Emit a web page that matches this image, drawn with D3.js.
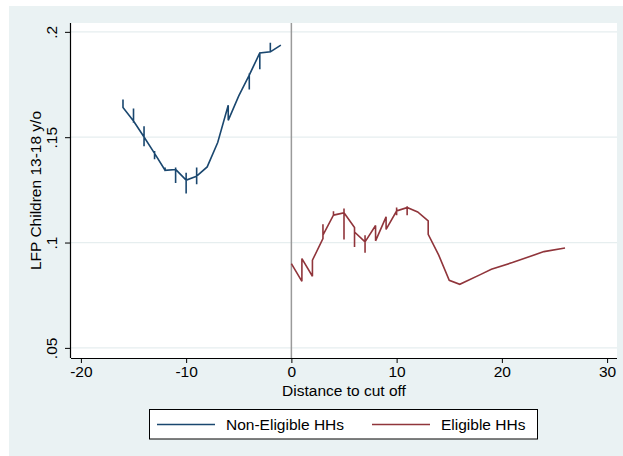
<!DOCTYPE html>
<html>
<head>
<meta charset="utf-8">
<script src="https://cdn.jsdelivr.net/npm/d3@7"></script>
<style>
  html, body { margin: 0; padding: 0; background: #ffffff; }
  svg { display: block; }
  text { font-family: "Liberation Sans", Arial, Helvetica, sans-serif; fill: #000; }
</style>
</head>
<body>
<svg id="chart" width="623" height="456"></svg>
<script>
// ---- data (in path order) ----
const nonEligX = [-16,-16, -15,-15,-15,-15, -14,-14,-14,-14, -13,-13,-13,-13, -12,-12,-12,
  -11,-11,-11,-11, -10,-10,-10,-10, -9,-9,-9,-9, -8, -7, -6,-6, -5, -4,-4,-4,-4, -3,-3,-3, -2,-2,-2, -1];
const nonEligY = [0.1679,0.1641, 0.1577,0.1636,0.1568,0.1577, 0.1501,0.1552,0.1457,0.1501,
  0.1423,0.1434,0.1395,0.1423, 0.1343,0.1356,0.1343, 0.1347,0.1356,0.1283,0.1347,
  0.1296,0.1331,0.1233,0.1296, 0.1315,0.1356,0.1277,0.1315, 0.1359, 0.1475, 0.1652,0.1580,
  0.1696, 0.1795,0.1802,0.1726,0.1795, 0.1900,0.1823,0.1900, 0.1905,0.1948,0.1905, 0.1937];

const eligX = [0, 1,1, 2,2, 3,3,3, 4,4,4, 5,5,5,5, 6,6,6, 7,7,7,7, 8,8, 9,9,
  10,10,10,10, 11,11,11,11, 12, 13,13, 14, 15, 16, 18, 19, 21, 24, 26];
const eligY = [0.0900, 0.0816,0.0924, 0.0840,0.0916, 0.1019,0.1087,0.1035,
  0.1130,0.1149,0.1130, 0.1141,0.1161,0.1014,0.1141, 0.1071,0.0979,0.1050,
  0.1003,0.1035,0.0951,0.1003, 0.1081,0.1008, 0.1122,0.1062,
  0.1150,0.1166,0.1130,0.1150, 0.1166,0.1172,0.1130,0.1166, 0.1145,
  0.1103,0.1039, 0.0940, 0.0821, 0.0802, 0.0849, 0.0873, 0.0905, 0.0957, 0.0974];

const xTicks = [-20, -10, 0, 10, 20, 30];
const yTicks = [0.05, 0.1, 0.15, 0.2];
const yTickLabels = [".05", ".1", ".15", ".2"];
const seriesNames = ["Non-Eligible HHs", "Eligible HHs"];
const seriesColors = ["#1a476f", "#90353b"];
const xTitle = "Distance to cut off";
const yTitle = "LFP Children 13-18 y/o";

// ---- layout ----
const svg = d3.select("#chart");
const W = 623, H = 456;
const plot = { left: 71, top: 23, right: 617, bottom: 358 };

svg.append("rect").attr("x", 9).attr("y", 6).attr("width", W - 9).attr("height", H - 6)
  .attr("fill", "#eaf2f3");
svg.append("rect").attr("x", plot.left).attr("y", plot.top)
  .attr("width", plot.right - plot.left).attr("height", plot.bottom - plot.top)
  .attr("fill", "#ffffff");

const x = d3.scaleLinear().domain([-20.94, 30.94]).range([plot.left, plot.right]);
const y = d3.scaleLinear().domain([0.0452, 0.2042]).range([plot.bottom, plot.top]);

// gridlines
svg.append("g").selectAll("line").data(yTicks).join("line")
  .attr("x1", plot.left).attr("x2", plot.right)
  .attr("y1", d => y(d)).attr("y2", d => y(d))
  .attr("stroke", "#e6eeef").attr("stroke-width", 1.2);

// cutoff line
svg.append("line")
  .attr("x1", x(0)).attr("x2", x(0)).attr("y1", plot.top).attr("y2", plot.bottom)
  .attr("stroke", "#9a9a9a").attr("stroke-width", 1.5);

// series
const line = d3.line().x(d => x(d[0])).y(d => y(d[1]));
const s1 = nonEligX.map((v, i) => [v, nonEligY[i]]);
const s2 = eligX.map((v, i) => [v, eligY[i]]);
[s1, s2].forEach((s, i) => {
  svg.append("path").datum(s).attr("d", line)
    .attr("fill", "none").attr("stroke", seriesColors[i])
    .attr("stroke-width", 1.6).attr("stroke-linejoin", "miter").attr("stroke-miterlimit", 2);
});

// axes
const xAxis = d3.axisBottom(x).tickValues(xTicks).tickSize(5).tickPadding(3).tickFormat(d3.format("d"));
const gx = svg.append("g").attr("transform", `translate(0,${plot.bottom})`).call(xAxis);
gx.select(".domain").attr("d", `M${plot.left},0.5H${plot.right}`).attr("stroke", "#000").attr("stroke-width", 1.2);
gx.selectAll(".tick line").attr("stroke", "#000").attr("stroke-width", 1);
gx.selectAll(".tick text").attr("font-size", 15.5).attr("font-family", "Liberation Sans, Arial, sans-serif")
  .attr("fill", "#000").text(d => d < 0 ? "-" + Math.abs(d) : d);

const yAxis = d3.axisLeft(y).tickValues(yTicks).tickSize(6).tickFormat((d, i) => yTickLabels[i]);
const gy = svg.append("g").attr("transform", `translate(${plot.left},0)`).call(yAxis);
gy.select(".domain").attr("d", `M-0.5,${plot.top}V${plot.bottom}`).attr("stroke", "#000").attr("stroke-width", 1.2);
gy.selectAll(".tick line").attr("stroke", "#000").attr("stroke-width", 1);
gy.selectAll(".tick text")
  .attr("font-size", 15.5).attr("font-family", "Liberation Sans, Arial, sans-serif").attr("fill", "#000")
  .attr("x", null).attr("dy", null)
  .attr("text-anchor", "middle")
  .attr("transform", "translate(-14,0) rotate(-90)");

// titles
svg.append("text").attr("x", (plot.left + plot.right) / 2).attr("y", 396)
  .attr("text-anchor", "middle").attr("font-size", 15.5).text(xTitle);
svg.append("text").attr("transform", `translate(41,${(plot.top + plot.bottom) / 2}) rotate(-90)`)
  .attr("text-anchor", "middle").attr("font-size", 15.5).text(yTitle);

// legend
svg.append("rect").attr("x", 149.5).attr("y", 409.5).attr("width", 388).attr("height", 29.5)
  .attr("fill", "#ffffff").attr("stroke", "#000").attr("stroke-width", 1);
const legX = [157, 372];
seriesNames.forEach((n, i) => {
  svg.append("line").attr("x1", legX[i]).attr("x2", legX[i] + 58).attr("y1", 424.5).attr("y2", 424.5)
    .attr("stroke", seriesColors[i]).attr("stroke-width", 1.6);
  svg.append("text").attr("x", legX[i] + 69).attr("y", 430).attr("font-size", 15.5).text(n);
});
</script>
</body>
</html>
